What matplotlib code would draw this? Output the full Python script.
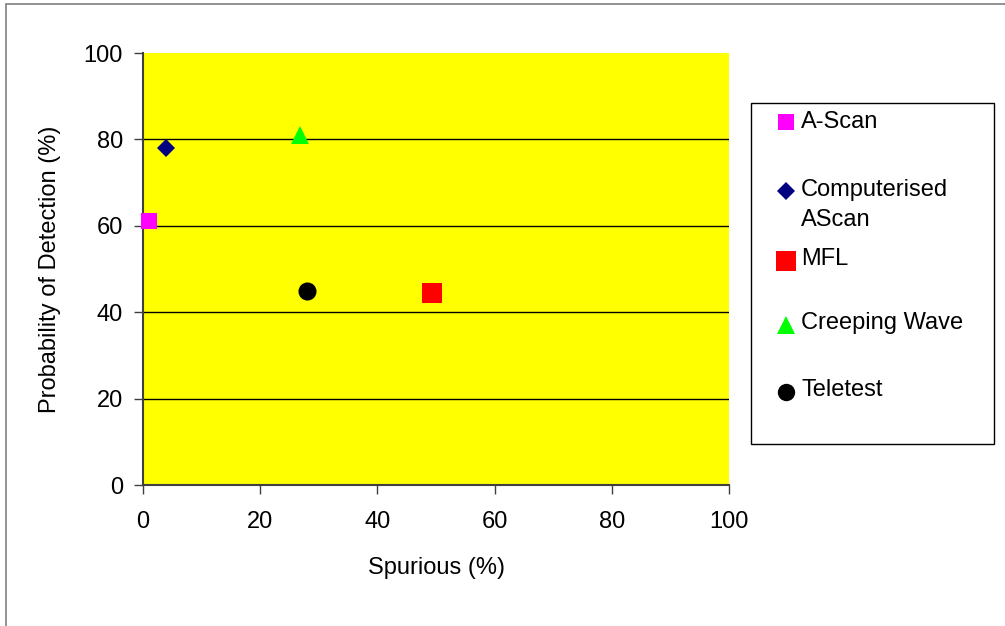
import matplotlib
matplotlib.use("Agg")
import matplotlib.pyplot as plt
from matplotlib.lines import Line2D
from matplotlib.patches import Rectangle

plt.rcParams['font.family'] = ['Liberation Sans', 'DejaVu Sans']

series = ["A-Scan", "Computerised\nAScan", "MFL", "Creeping Wave", "Teletest"]
spurious = [1, 4, 49.3, 26.8, 28]
pod = [61, 78, 44.5, 81, 45]
colors = ["#FF00FF", "#000080", "#FF0000", "#00FF00", "#000000"]
markers = ["s", "D", "s", "^", "o"]
sizes = [12, 9.5, 14.5, 12.5, 13]

x_ticks = [0, 20, 40, 60, 80, 100]
y_ticks = [0, 20, 40, 60, 80, 100]

W, H = 1005, 626
FS = 17

fig = plt.figure(figsize=(W / 100, H / 100), dpi=100)
ax = fig.add_axes([143 / W, 1 - 485 / H, (729 - 143) / W, (485 - 53) / H])
ax.set_facecolor("#FFFF00")

for s, xv, yv, c, m, ms in zip(series, spurious, pod, colors, markers, sizes):
    ax.plot([xv], [yv], linestyle='none', marker=m, color=c, markersize=ms,
            markeredgewidth=0, label=s, zorder=3, clip_on=False)

ax.set_xlim(0, 100)
ax.set_ylim(0, 100)
ax.set_xticks(x_ticks)
ax.set_yticks(y_ticks)
ax.tick_params(axis='both', labelsize=FS, direction='out', length=6.5, width=1,
               color='#404040')
ax.tick_params(axis='x', pad=12)
ax.tick_params(axis='y', pad=8)
ax.yaxis.grid(True, color='black', linewidth=1)
ax.yaxis.get_gridlines()[-1].set_visible(False)
ax.set_axisbelow(True)
for side in ['top', 'right']:
    ax.spines[side].set_visible(False)
for side in ['left', 'bottom']:
    ax.spines[side].set_color('#404040')
    ax.spines[side].set_linewidth(1.5)

ax.set_xlabel("Spurious (%)", fontsize=FS, va='center')
ax.xaxis.set_label_coords(0.5, (485 - 568) / 432)
ax.set_ylabel("Probability of Detection (%)", fontsize=FS, va='center')
ax.yaxis.set_label_coords((50 - 143) / 586, 0.5)

# legend box (drawn as a figure-level legend panel)
fig.add_artist(Rectangle((751 / W, 1 - 444 / H), (994 - 751) / W, (444 - 103) / H,
                         transform=fig.transFigure, facecolor='white',
                         edgecolor='black', linewidth=1))
leg_marker_y = [122, 191, 261, 325, 392]
leg_text_y = [122, 205, 259, 323, 390]
leg_sizes = [11.5, 9.5, 14.5, 12.5, 12.5]
for s, c, m, ms, my, ty in zip(series, colors, markers, leg_sizes, leg_marker_y, leg_text_y):
    fig.add_artist(Line2D([786 / W], [1 - my / H], transform=fig.transFigure,
                          linestyle='none', marker=m, color=c, markersize=ms,
                          markeredgewidth=0))
    fig.text(801 / W, 1 - ty / H, s, fontsize=FS, ha='left', va='center',
             linespacing=1.45)

# outer chart border
fig.add_artist(Rectangle((6 / W, -0.01), (1010 - 6) / W, 1 - 4 / H + 0.01,
                         transform=fig.transFigure, fill=False,
                         edgecolor='#808080', linewidth=1.2))

fig.savefig("out.png", dpi=100)
